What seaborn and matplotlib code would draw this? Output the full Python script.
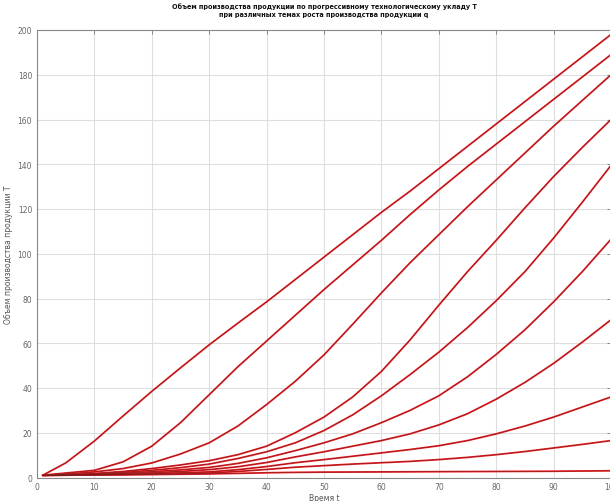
import numpy as np
import pandas as pd
import matplotlib
matplotlib.use("Agg")
import matplotlib.pyplot as plt
import seaborn as sns

# time points
t = [1, 5, 10, 15, 20, 25, 30, 35, 40, 45, 50, 55, 60, 65, 70, 75, 80, 85, 90, 95, 100]

c1 = [1, 6.5, 16.3, 27.5, 38.5, 49, 59.3, 69, 78.5, 88.5, 98.5, 108.5, 118.5, 128, 138, 148, 158, 168, 178, 188, 198]
c2 = [1, 2, 3.2, 7, 14, 24.5, 37, 49.5, 61, 72.5, 84, 95, 106, 117.5, 128.5, 139, 149, 159, 169, 179, 189]
c3 = [1, 1.5, 2.5, 4, 6.5, 10.5, 15.5, 23, 32.6, 43, 54.8, 68.5, 82.5, 96, 108.5, 121, 133, 145, 157, 168.5, 180]
c4 = [1, 1.2, 1.8, 2.7, 4, 5.6, 7.5, 10.2, 14, 20, 27, 36, 47.4, 61.5, 77, 92, 106, 120.5, 134.5, 147.5, 160]
c5 = [1, 1.2, 1.6, 2.3, 3.2, 4.4, 6, 8.5, 11.5, 15.5, 21, 28, 36.5, 46, 56, 67, 79, 92, 107, 123, 139.5]
c6 = [1, 1.1, 1.4, 1.9, 2.6, 3.4, 4.5, 6.3, 8.8, 12, 15.5, 19.5, 24.5, 30, 36.5, 45, 55, 66, 78.5, 92, 106.5]
c7 = [1, 1.1, 1.3, 1.7, 2.1, 2.7, 3.5, 4.8, 6.7, 9.2, 11.5, 14, 16.5, 19.5, 23.5, 28.5, 35, 42.5, 51, 60.5, 70.5]
c8 = [1, 1.05, 1.2, 1.4, 1.7, 2.1, 2.5, 3.5, 4.9, 6.6, 8, 9.5, 11, 12.5, 14.2, 16.5, 19.5, 23, 27, 31.5, 36]
c9 = [1, 1.05, 1.1, 1.3, 1.5, 1.7, 2, 2.7, 3.6, 4.6, 5.3, 6, 6.6, 7.2, 8, 9, 10.2, 11.6, 13.2, 14.8, 16.5]
c10 = [1, 1.05, 1.1, 1.2, 1.3, 1.45, 1.6, 1.85, 2.1, 2.3, 2.4, 2.45, 2.5, 2.55, 2.6, 2.65, 2.7, 2.75, 2.8, 2.9, 3]

curves = [c1, c2, c3, c4, c5, c6, c7, c8, c9, c10]
x_ticks = [0, 10, 20, 30, 40, 50, 60, 70, 80, 90, 100]
y_ticks = [0, 20, 40, 60, 80, 100, 120, 140, 160, 180, 200]

title = ("Объем производства продукции по прогрессивному технологическому укладу Т\n"
         "при различных темах роста производства продукции q")
xlabel = "Время t"
ylabel = "Объем производства продукции Т"

rows = []
for i, c in enumerate(curves):
    for tt, v in zip(t, c):
        rows.append({"t": tt, "T": v, "curve": f"c{i+1}"})
df = pd.DataFrame(rows)

sns.set_style("white")
plt.rcParams['font.family'] = ['DejaVu Sans']

fig = plt.figure(figsize=(6.10, 5.02), dpi=100)
ax = fig.add_axes([37/610, (502-478.5)/502, (611-37)/610, (478.5-31)/502])

pal = {f"c{i+1}": "#ee2026" for i in range(len(curves))}
sns.lineplot(data=df, x="t", y="T", hue="curve", palette=pal, legend=False,
             linewidth=1.3, ax=ax)
pal2 = {f"c{i+1}": "#7a1c1c" for i in range(len(curves))}
sns.lineplot(data=df, x="t", y="T", hue="curve", palette=pal2, legend=False,
             linewidth=0.4, ax=ax)

ax.set_xlim(0, 100)
ax.set_ylim(0, 200)
ax.set_xticks(x_ticks)
ax.set_yticks(y_ticks)
ax.grid(True, color="#dedede", linewidth=0.8, linestyle="-")
ax.set_axisbelow(True)
ax.tick_params(direction="in", length=3, width=0.6, colors="#777777",
               labelsize=5.5, labelcolor="#666666", top=True, right=True)
for s in ax.spines.values():
    s.set_color("#888888")
    s.set_linewidth(0.8)

ax.set_xlabel(xlabel, fontsize=5.5, color="#555555", labelpad=1)
ax.set_ylabel(ylabel, fontsize=5.5, color="#555555", labelpad=3)
ax.set_title(title, fontsize=4.7, fontweight="bold", color="#111111", pad=10,
             linespacing=1.35)

fig.savefig("out.png", dpi=100)
